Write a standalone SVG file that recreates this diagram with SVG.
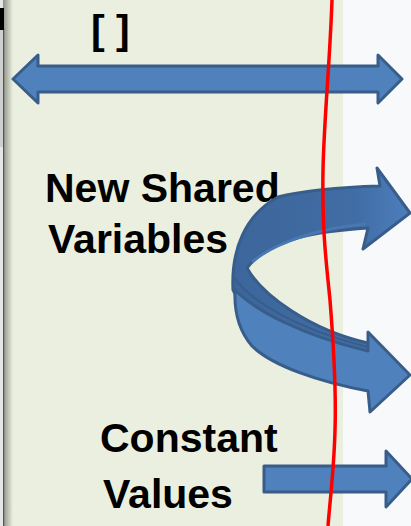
<svg xmlns="http://www.w3.org/2000/svg" width="411" height="526" viewBox="0 0 411 526">
  <defs>
    <linearGradient id="shadow" x1="0" y1="0" x2="1" y2="0">
      <stop offset="0" stop-color="#8e9288"/>
      <stop offset="1" stop-color="#ebefdf"/>
    </linearGradient>
    <linearGradient id="backBand" gradientUnits="userSpaceOnUse" x1="230" y1="0" x2="411" y2="0">
      <stop offset="0" stop-color="#3c669b"/>
      <stop offset="0.7" stop-color="#416da5"/>
      <stop offset="1" stop-color="#4d7fbd"/>
    </linearGradient>
    <style>
      .lbl { font-family: "Liberation Sans", Arial, sans-serif; font-weight: bold; font-size: 41px; fill: #000000; }
      .arrow { fill: #4f81bd; stroke: #385d8a; stroke-width: 3; stroke-linejoin: round; }
      .back { fill: url(#backBand); stroke: #385d8a; stroke-width: 3; stroke-linejoin: round; }
      .edge { fill: none; stroke: #385d8a; stroke-width: 2; }
      .hilite { fill: none; stroke: #4877b2; stroke-width: 3; }
    </style>
  </defs>

  <!-- backgrounds -->
  <rect x="0" y="0" width="411" height="526" fill="#f8f9fb"/>
  <rect x="0" y="0" width="343" height="526" fill="#ebefdf"/>
  <rect x="3" y="0" width="10" height="526" fill="url(#shadow)"/>
  <rect x="0" y="0" width="3" height="526" fill="#e6e6e6"/>
  <rect x="0" y="30" width="3" height="117" fill="#cfcfcf"/>
  <rect x="3" y="28" width="1.2" height="498" fill="#555555"/>
  <rect x="0" y="8" width="4" height="22" fill="#000000"/>

  <!-- labels -->
  <g id="brackets"><text class="lbl" x="91" y="44">[ ]</text></g>
  <g id="new-shared-variables">
    <text class="lbl" x="45" y="202">New Shared</text>
    <text class="lbl" x="48" y="253">Variables</text>
  </g>
  <g id="constant-values">
    <text class="lbl" x="100" y="452">Constant</text>
    <text class="lbl" x="103" y="508">Values</text>
  </g>

  <!-- connectors -->
  <g id="connectors">
    <polygon class="arrow" points="13,79 38,55 38,66 378,66 378,55 402,79 378,103 378,92 38,92 38,103"/>
    <g id="curved-arrow">
      <path class="back" d="M 380,186 L 377,168 L 410,213 L 363,249 L 368,228 C 320,231 270,238 247,268 C 262,295 310,330 368,343 L 368,360 C 300,345 245,320 233,290 C 231,250 245,215 278,197 C 310,189 345,187 380,186 Z"/>
      <path class="hilite" d="M 252,262 C 275,242 320,228 366,224"/>
      <path class="edge" d="M 233,276 C 250,302 300,330 368,347"/>
      <path class="arrow" d="M 235,290 C 255,310 300,335 368,351 L 368,332 L 410,375 L 370,412 L 368,391 C 320,382 272,366 252,346 C 239,331 234,312 235,290 Z"/>
    </g>
    <polygon class="arrow" points="264,466 386,466 386,451 412,479 386,507 386,492 264,492"/>
  </g>

  <!-- red line -->
  <path d="M 332,0 C 330,60 324,120 323,170 C 322,230 326,260 330,300 C 334,350 336,400 335,430 C 334,470 330,500 328,526" fill="none" stroke="#ff0000" stroke-width="3.5"/>
</svg>
